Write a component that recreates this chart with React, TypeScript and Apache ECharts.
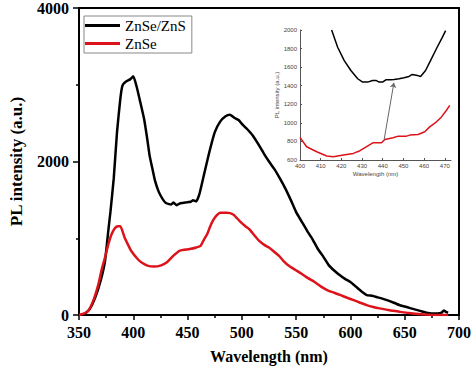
import React, { useEffect, useRef } from "react";
import * as echarts from "echarts";

// Main chart data: [wavelength nm, PL intensity]
const znseZnsMain: [number, number][] = [
  [350, 0], [355, 10], [360, 80], [365, 230], [370, 450], [374, 706], [377, 1100], [379, 1350],
  [382, 1780], [385, 2380], [388, 2810], [390, 2990], [393, 3040], [397, 3070], [400, 3110],
  [403, 2980], [406, 2800], [410, 2550], [413, 2280], [415, 2080], [418, 1880], [420, 1750],
  [423, 1620], [425, 1560], [428, 1490], [430, 1460], [433, 1445], [435, 1440], [437, 1465],
  [440, 1430], [443, 1455], [445, 1460], [448, 1465], [450, 1470], [453, 1475], [455, 1495],
  [458, 1480], [461, 1580], [465, 1820], [470, 2120], [475, 2380], [480, 2520], [485, 2590],
  [489, 2610], [493, 2570], [497, 2540], [500, 2490], [505, 2420], [510, 2340], [515, 2230],
  [520, 2110], [525, 2000], [530, 1900], [535, 1780], [540, 1650], [545, 1500], [550, 1340],
  [555, 1220], [560, 1100], [565, 990], [570, 860], [575, 760], [580, 650], [585, 580],
  [590, 520], [595, 470], [600, 430], [605, 370], [610, 310], [615, 260], [620, 250],
  [625, 230], [630, 210], [640, 160], [645, 130], [650, 110], [655, 90], [660, 70], [665, 50],
  [670, 30], [675, 20], [680, 20], [684, 30], [686, 60], [688, 40], [690, 30],
];

const znseMain: [number, number][] = [
  [350, 0], [355, 20], [359, 64], [364, 220], [368, 408], [371, 600], [374, 752], [377, 920],
  [380, 1052], [383, 1130], [386, 1156], [388, 1156], [392, 1010], [395, 920], [398, 838],
  [404, 730], [408, 680], [413, 644], [419, 631], [425, 644], [431, 687], [437, 773],
  [443, 838], [452, 859], [458, 880], [462, 902], [465, 980], [468, 1052], [471, 1160],
  [474, 1246], [477, 1300], [480, 1332], [486, 1332], [492, 1310], [498, 1224], [503, 1160],
  [507, 1117], [512, 1030], [516, 966], [521, 910], [525, 880], [530, 820], [534, 773],
  [538, 710], [543, 644], [549, 590], [555, 537], [561, 480], [567, 430], [573, 370],
  [579, 322], [585, 290], [591, 258], [597, 225], [603, 193], [609, 160], [615, 129],
  [621, 105], [627, 86], [636, 62], [645, 43], [654, 25], [663, 13], [675, 0], [690, 0],
];

// Inset data
const znseZnsInset: [number, number][] = [
  [415.3, 2000], [418.2, 1814], [421.4, 1671], [424.6, 1564], [427.9, 1475], [430.3, 1439],
  [432.7, 1439], [435.1, 1457], [436.7, 1457], [438.3, 1439], [439.9, 1439], [441.5, 1464],
  [443.9, 1464], [445.5, 1468], [447.9, 1475], [450.3, 1486], [452.7, 1500], [454.3, 1521],
  [456.7, 1511], [458.3, 1500], [460.7, 1564], [463.1, 1671], [466.3, 1814], [468.8, 1921],
  [470.4, 1993],
];

const znseInset: [number, number][] = [
  [400, 843], [403.2, 743], [408.1, 689], [412.9, 643], [416.1, 636], [421, 654], [425.8, 671],
  [429, 700], [432.2, 743], [435.4, 786], [439.4, 786], [441, 821], [445, 839], [447.5, 857],
  [451.5, 857], [453.1, 868], [457.1, 875], [460.3, 904], [462.7, 957], [466, 1011],
  [468.4, 1064], [470.8, 1136], [472.4, 1189],
];

const insetArrow: [number, number][] = [[440.7, 823], [445.4, 1432]];

const seriesNames = ["ZnSe/ZnS", "ZnSe"];
const mainYLabels = [0, 2000, 4000];

const SERIF = "Liberation Serif";
const SANS = "Liberation Sans";
const RED = "#dc131b";

export default function App() {
  const ref = useRef<HTMLDivElement>(null);
  useEffect(() => {
    if (!ref.current) return;
    const chart = echarts.init(ref.current, undefined, { renderer: "svg" });
    const boldLabel = {
      fontFamily: SERIF,
      fontWeight: "bold" as const,
      fontSize: 16,
      color: "#000",
    };
    const insetLabel = { fontFamily: SANS, fontSize: 6, color: "#444" };
    const insetAxisLine = { show: true, lineStyle: { color: "#555", width: 1 } };
    chart.setOption({
      animation: false,
      backgroundColor: "#fff",
      grid: [
        { left: 73, right: 13, top: 8, bottom: 51 },
        { left: 300, top: 30, width: 151, height: 130 },
      ],
      legend: {
        data: seriesNames,
        orient: "vertical",
        left: 84,
        top: 16,
        padding: [2, 6, 2, 1],
        itemGap: 3,
        itemWidth: 35,
        itemHeight: 3,
        icon: "rect",
        borderColor: "#888",
        borderWidth: 1,
        textStyle: { fontFamily: SERIF, fontSize: 15, color: "#000", lineHeight: 15 },
      },
      xAxis: [
        {
          type: "value",
          gridIndex: 0,
          min: 350,
          max: 700,
          interval: 50,
          name: "Wavelength (nm)",
          nameLocation: "middle",
          nameGap: 33,
          nameTextStyle: { ...boldLabel, fontSize: 16 },
          axisLine: { show: true, onZero: false, lineStyle: { color: "#000", width: 2 } },
          axisTick: { show: true, length: 5, lineStyle: { color: "#000", width: 1.5 } },
          minorTick: { show: true, splitNumber: 2, length: 3, lineStyle: { color: "#000", width: 1.5 } },
          axisLabel: { ...boldLabel, margin: 9 },
          splitLine: { show: false },
        },
        {
          type: "value",
          gridIndex: 0,
          position: "top",
          min: 350,
          max: 700,
          axisLine: { show: true, onZero: false, lineStyle: { color: "#000", width: 2 } },
          axisTick: { show: false },
          axisLabel: { show: false },
          splitLine: { show: false },
        },
        {
          type: "value",
          gridIndex: 1,
          min: 400,
          max: 473,
          interval: 10,
          name: "Wavelength (nm)",
          nameLocation: "middle",
          nameGap: 11,
          nameTextStyle: { ...insetLabel },
          axisLine: { ...insetAxisLine, onZero: false },
          axisTick: { show: true, length: 2, inside: true, lineStyle: { color: "#555" } },
          axisLabel: { ...insetLabel, margin: 3, formatter: (v: number) => String(v) },
          splitLine: { show: false },
        },
      ],
      yAxis: [
        {
          type: "value",
          gridIndex: 0,
          min: 0,
          max: 4000,
          interval: 2000,
          name: "PL intensity (a.u.)",
          nameLocation: "middle",
          nameGap: 54,
          nameTextStyle: { ...boldLabel, fontSize: 17 },
          axisLine: { show: true, onZero: false, lineStyle: { color: "#000", width: 2 } },
          axisTick: { show: true, length: 6, lineStyle: { color: "#000", width: 1.5 } },
          minorTick: { show: true, splitNumber: 2, length: 3, lineStyle: { color: "#000", width: 1.5 } },
          axisLabel: {
            ...boldLabel,
            margin: 10,
            formatter: (v: number) => (mainYLabels.includes(v) ? String(v) : ""),
          },
          splitLine: { show: false },
        },
        {
          type: "value",
          gridIndex: 0,
          position: "right",
          min: 0,
          max: 4000,
          axisLine: { show: true, onZero: false, lineStyle: { color: "#000", width: 2 } },
          axisTick: { show: false },
          axisLabel: { show: false },
          splitLine: { show: false },
        },
        {
          type: "value",
          gridIndex: 1,
          min: 600,
          max: 2000,
          interval: 200,
          name: "PL intensity (a.u.)",
          nameLocation: "middle",
          nameGap: 16,
          nameTextStyle: { ...insetLabel },
          axisLine: { ...insetAxisLine, onZero: false },
          axisTick: { show: true, length: 2, inside: true, lineStyle: { color: "#555" } },
          axisLabel: { ...insetLabel, margin: 3, formatter: (v: number) => String(v) },
          splitLine: { show: false },
        },
      ],
      series: [
        {
          name: seriesNames[0],
          type: "line",
          xAxisIndex: 0,
          yAxisIndex: 0,
          data: znseZnsMain,
          showSymbol: false,
          smooth: 0.15,
          color: "#000",
          lineStyle: { color: "#000", width: 2.5 },
          z: 3,
        },
        {
          name: seriesNames[1],
          type: "line",
          xAxisIndex: 0,
          yAxisIndex: 0,
          data: znseMain,
          showSymbol: false,
          smooth: 0.2,
          color: RED,
          lineStyle: { color: RED, width: 2.5 },
          z: 4,
        },
        {
          name: "inset-black",
          type: "line",
          xAxisIndex: 2,
          yAxisIndex: 2,
          data: znseZnsInset,
          showSymbol: false,
          color: "#000",
          lineStyle: { color: "#000", width: 1.5 },
        },
        {
          name: "inset-red",
          type: "line",
          xAxisIndex: 2,
          yAxisIndex: 2,
          data: znseInset,
          showSymbol: false,
          color: RED,
          lineStyle: { color: RED, width: 1.5 },
          markLine: {
            silent: true,
            symbol: ["none", "arrow"],
            symbolSize: 5,
            label: { show: false },
            lineStyle: { color: "#666", width: 1, type: "solid" },
            data: [
              [
                { coord: insetArrow[0] },
                { coord: insetArrow[1] },
              ],
            ],
          },
        },
      ],
    });
    return () => chart.dispose();
  }, []);
  return (
    <div
      ref={ref}
      style={{ position: "fixed", left: 0, top: 0, width: 474, height: 369, background: "#fff" }}
    />
  );
}
